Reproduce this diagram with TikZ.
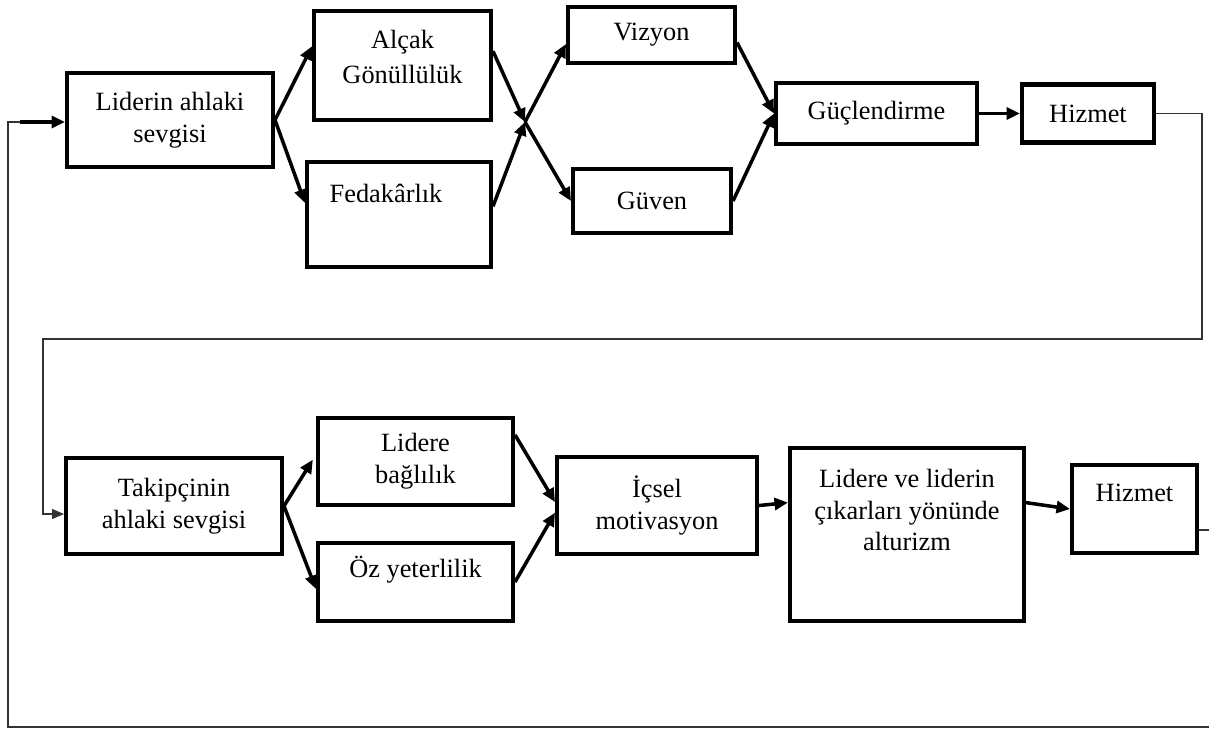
\documentclass[tikz,border=0pt]{standalone}
\usepackage{fontspec}
\setmainfont{Liberation Serif}
\usetikzlibrary{arrows.meta}

\tikzset{
	kutu/.style={draw, line width=2.3pt, inner sep=2pt, align=center},
	yazi/.style={align=center, inner sep=0pt},
	ok/.style={-{Triangle[length=0.27cm,width=0.24cm]}, line width=2pt},
	geri/.style={line width=0.7pt, draw=black!80},
	gerikucuk/.style={geri, -{Triangle[length=0.24cm,width=0.2cm]}},
}

\begin{document}
\begin{tikzpicture}[x=0.02cm, y=-0.02cm, font=\fontsize{15}{18}\selectfont]
			%\draw[step=50,black,very thin] (0,0) grid (1209,731);
			\useasboundingbox (0,0) rectangle (1209,731);
			% ust sira
			\node[kutu, minimum width=4.12cm, minimum height=1.88cm] (lider) at (170,120) {Liderin ahlaki\\sevgisi};
			\node[kutu, minimum width=3.54cm, minimum height=2.18cm] (alcak) at (402.5,65.5) {};
			\node[yazi] (alcakyazi) at (402.5,57) {Alçak\\[2pt]Gönüllülük};
			\node[kutu, minimum width=3.68cm, minimum height=2.10cm] (fedak) at (399,214.5) {};
			\node[yazi] (fedakyazi) at (386,193) {Fedakârlık};
			\node[kutu, minimum width=3.34cm, minimum height=1.12cm] (vizyon) at (651.5,35) {Vizyon};
			\node[kutu, minimum width=3.16cm, minimum height=1.28cm] (guven) at (652,201) {Güven};
			\node[kutu, minimum width=4.02cm, minimum height=1.22cm] (guc) at (876.5,113.5) {Güçlendirme};
			\node[kutu, minimum width=2.64cm, minimum height=1.16cm] (hizmet) at (1088,113.5) {Hizmet};
			\coordinate (orta) at (525,122);

			\draw[ok] (lider.east) -- (alcak.168);
			\draw[ok] (lider.east) -- (fedak.173);
			\draw[ok] (alcak.9) -- (orta);
			\draw[ok] (fedak.5) -- (orta);
			\draw[ok] (orta) -- (vizyon.186);
			\draw[ok] (orta) -- (guven.west);
			\draw[ok] (vizyon.-5) -- (guc.west);
			\draw[ok] (guven.east) -- (guc.west);
			\draw[ok] (guc.east) -- (hizmet.west);

			% alt sira
			\node[kutu, minimum width=4.32cm, minimum height=1.92cm] (takip) at (174,506) {Takipçinin\\ahlaki sevgisi};
			\node[kutu, minimum width=3.90cm, minimum height=1.74cm] (bagli) at (415.5,461.5) {Lidere\\bağlılık};
			\node[kutu, minimum width=3.90cm, minimum height=1.56cm] (oz) at (415.5,582) {};
			\node[yazi] (ozyazi) at (415.5,570) {Öz yeterlilik};
			\node[kutu, minimum width=4.00cm, minimum height=1.94cm] (icsel) at (657,505.5) {İçsel\\motivasyon};
			\node[kutu, minimum width=4.68cm, minimum height=3.46cm] (ldrve) at (907,534.5) {};
			\node[yazi] (ldrveyazi) at (907,510) {Lidere ve liderin\\çıkarları yönünde\\alturizm};
			\node[kutu, minimum width=2.50cm, minimum height=1.76cm] (hizmetiki) at (1134.5,509) {};
			\node[yazi] (hizmetikiyazi) at (1134.5,493) {Hizmet};

			\draw[ok, shorten >=0.12cm] (takip.east) -- (bagli.176);
			\draw[ok] (takip.east) -- (oz.184);
			\draw[ok] (bagli.15) -- (icsel.178);
			\draw[ok] (oz.east) -- (icsel.184);
			\draw[ok] (icsel.east) -- (ldrve.165);
			\draw[ok] (ldrve.15) -- (hizmetiki.west);

			% geri donusler
			\coordinate (k1) at (1202,339);
			\coordinate (k2) at (43,339);
			\coordinate (k3) at (43,514);
			\draw[gerikucuk] (hizmet.east) -| (k1) -- (k2) -- (k3) -- (k3 -| takip.west);
			\coordinate (m1) at (1215,530);
			\coordinate (m2) at (1215,727);
			\coordinate (m3) at (8,727);
			\coordinate (m4) at (8,122);
			\coordinate (m5) at (20,122);
			\draw[geri] (m1 -| hizmetiki.east) -- (m1) -- (m2) -- (m3) -- (m4) -- (m5);
			\draw[ok] (m5) -- (m5 -| lider.west);
\end{tikzpicture}
\end{document}
